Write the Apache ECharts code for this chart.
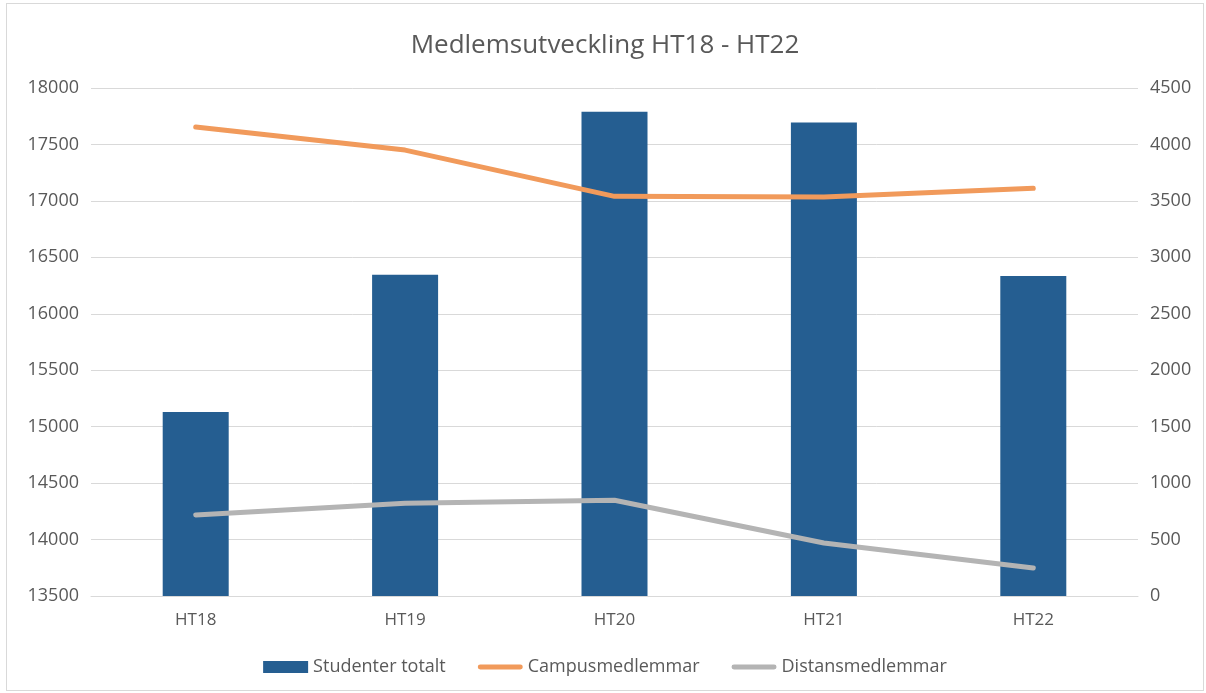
<!DOCTYPE html>
<html>
<head>
<meta charset="utf-8">
<script src="https://cdn.jsdelivr.net/npm/echarts@6/dist/echarts.min.js"></script>
<style>
  html, body { margin: 0; padding: 0; background: #fff; }
  #chart {
    position: absolute; left: 6px; top: 3px;
    width: 1196px; height: 686px;
    border: 1px solid #d9d9d9;
  }
</style>
</head>
<body>
<div id="chart"></div>
<script>
// data
var categories = ["HT18", "HT19", "HT20", "HT21", "HT22"];
var studenterTotalt = [15130, 16345, 17790, 17695, 16335];
var campusmedlemmar = [4155, 3950, 3540, 3535, 3612];
var distansmedlemmar = [718, 822, 848, 470, 248];

var textColor = "#595959";
var fontFam = "'Open Sans', 'Noto Sans', sans-serif";
// thin line icon for the line series in the legend
var lineIcon = "path://M0,0h0.01v12h-0.01z M2,3.5h41a2.5,2.5 0 0 1 0,5h-41a2.5,2.5 0 0 1 0,-5z M45,0h0.01v12h-0.01z";

var myChart = echarts.init(document.getElementById("chart"));
myChart.setOption({
  animation: false,
  backgroundColor: "#fff",
  textStyle: { fontFamily: fontFam },
  title: {
    text: "Medlemsutveckling HT18 - HT22",
    left: "center",
    top: 24,
    textStyle: { fontSize: 26, fontWeight: "normal", color: textColor, fontFamily: fontFam }
  },
  legend: {
    bottom: 9,
    left: "center",
    itemGap: 32,
    itemWidth: 45,
    itemHeight: 12,
    textStyle: { fontSize: 18, color: textColor },
    data: [
      { name: "Studenter totalt", icon: "rect" },
      { name: "Campusmedlemmar", icon: lineIcon },
      { name: "Distansmedlemmar", icon: lineIcon }
    ]
  },
  grid: { left: 84, right: 65, top: 84, bottom: 94 },
  xAxis: {
    type: "category",
    data: categories,
    axisTick: { show: false },
    axisLine: { lineStyle: { color: "#d9d9d9", width: 1 } },
    axisLabel: { color: textColor, fontSize: 17, margin: 16 }
  },
  yAxis: [
    {
      type: "value",
      min: 13500, max: 18000, interval: 500,
      axisLine: { show: false },
      axisTick: { show: false },
      axisLabel: { color: textColor, fontSize: 18, margin: 12, formatter: function (v) { return String(v); } },
      splitLine: { lineStyle: { color: "#d9d9d9", width: 1 } }
    },
    {
      type: "value",
      min: 0, max: 4500, interval: 500,
      axisLine: { show: false },
      axisTick: { show: false },
      axisLabel: { color: textColor, fontSize: 18, margin: 12, formatter: function (v) { return String(v); } },
      splitLine: { show: false }
    }
  ],
  series: [
    {
      name: "Studenter totalt",
      type: "bar",
      data: studenterTotalt,
      barWidth: 66,
      itemStyle: { color: "#255e91" }
    },
    {
      name: "Campusmedlemmar",
      type: "line",
      yAxisIndex: 1,
      data: campusmedlemmar,
      showSymbol: false,
      symbol: "none",
      lineStyle: { color: "#f19a5b", width: 5, cap: "round", join: "round" },
      itemStyle: { color: "#f19a5b" }
    },
    {
      name: "Distansmedlemmar",
      type: "line",
      yAxisIndex: 1,
      data: distansmedlemmar,
      showSymbol: false,
      symbol: "none",
      lineStyle: { color: "#b4b4b4", width: 5, cap: "round", join: "round" },
      itemStyle: { color: "#b4b4b4" }
    }
  ]
});
</script>
</body>
</html>
